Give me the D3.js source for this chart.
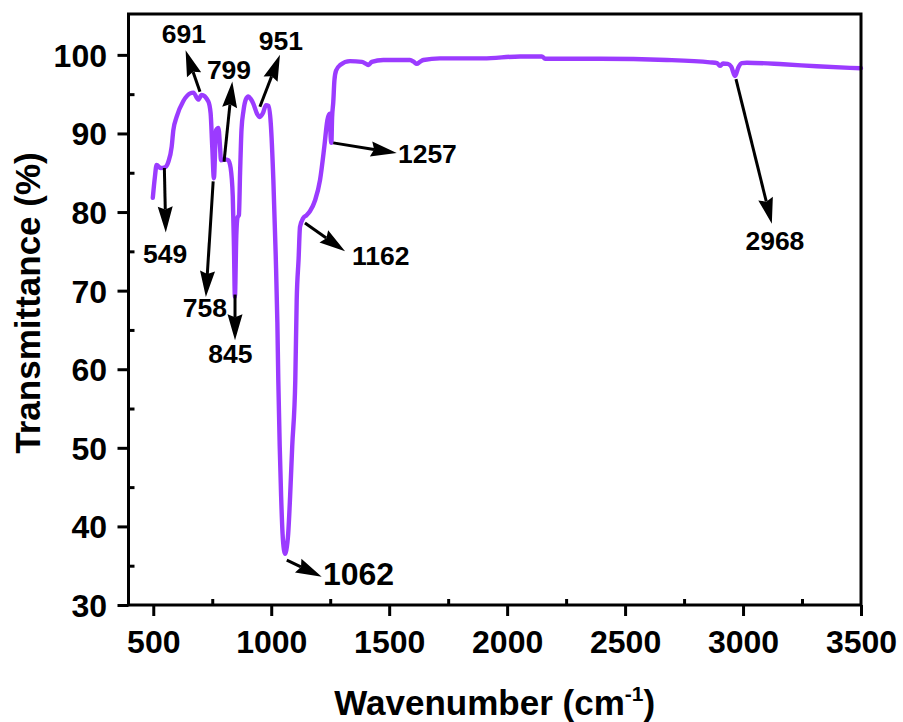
<!DOCTYPE html>
<html>
<head>
<meta charset="utf-8">
<script src="https://cdn.jsdelivr.net/npm/d3@7/dist/d3.min.js"></script>
<style>
  html, body { margin: 0; padding: 0; background: #fff; }
  svg { display: block; font-family: "Liberation Sans", Arial, sans-serif; }
</style>
</head>
<body>
<svg id="chart" width="903" height="722"></svg>
<script>
// ---- data ----
const wavenumber = [498, 507, 514, 531, 550, 564, 578, 585, 599, 627, 656, 670, 691, 705, 733, 743, 750, 757, 766, 776, 783, 787, 804, 818, 828, 837, 842, 846,
  852, 857, 863, 868, 874, 882, 892, 903, 913, 924, 940, 952, 965, 978, 988, 998, 1009, 1019, 1026, 1030, 1036, 1042, 1048, 1054, 1059, 1064, 1072, 1080, 1089,
  1102, 1108, 1116, 1122, 1135, 1150, 1164, 1186, 1207, 1225, 1238, 1248, 1252, 1255, 1258, 1263, 1268, 1275, 1292, 1334, 1384, 1405, 1412, 1426, 1475, 1588,
  1605, 1617, 1630, 1645, 1715, 1899, 2055, 2147, 2161, 2394, 2677, 2860, 2890, 2902, 2915, 2935, 2950, 2966, 2980, 2995, 3016, 3171, 3312, 3453, 3500];
const transmittance = [81.8, 84.5, 86.0, 85.6, 85.7, 86.4, 88.3, 90.4, 92.1, 94.1, 95.1, 95.2, 94.3, 94.9, 94.1, 92.6, 88.3, 84.3, 90.4, 90.7, 88.3, 86.6, 86.7, 86.6, 85.6, 82.0, 75.6, 69.2,
  77.0, 79.3, 79.6, 85.0, 90.5, 92.8, 94.3, 94.7, 94.4, 93.8, 92.5, 92.1, 92.6, 93.6, 93.5, 91.3, 84.1, 74.5, 66.0, 58.6, 50.2, 43.8, 39.1, 37.0, 36.5, 37.0, 39.1, 43.8, 50.2,
  58.6, 68.8, 74.0, 78.1, 79.2, 79.6, 80.1, 81.5, 84.1, 88.3, 91.7, 92.5, 89.5, 88.8, 92.0, 94.0, 96.8, 98.0, 98.7, 99.2, 99.1, 98.8, 98.7, 99.1, 99.35, 99.35,
  99.1, 98.85, 99.1, 99.35, 99.55, 99.55, 99.8, 99.8, 99.5, 99.5, 99.35, 99.05, 98.95, 98.6, 98.9, 98.85, 98.5, 97.3, 98.4, 98.95, 99.0, 98.8, 98.55, 98.35, 98.3];

const xTicks = [500, 1000, 1500, 2000, 2500, 3000, 3500];
const xMinorTicks = [750, 1250, 1750, 2250, 2750, 3250];
const yTicks = [30, 40, 50, 60, 70, 80, 90, 100];
const yMinorTicks = [35, 45, 55, 65, 75, 85, 95];

const peakLabels = ["549", "691", "799", "758", "845", "951", "1162", "1257", "1062", "2968"];
// arrow start / tip and label anchor, in data units (wavenumber, transmittance)
const arrowFrom = [[547, 85.6], [698, 95.3], [800, 86.4], [754, 83.9], [846.5, 69.5], [952, 93.4], [1143, 78.6], [1263, 88.8], [1066, 35.7], [2970, 96.9]];
const arrowTo   = [[553, 77.4], [637, 100.6], [835, 96.6], [723, 69.2], [846.5, 63.7], [1037, 100.0], [1313, 75.0], [1532, 87.5], [1214, 33.6], [3122, 78.5]];
const labelAt   = [[550, 73.5], [630, 101.5], [821, 96.9], [719, 66.7], [827, 60.8], [1041, 100.6], [1342, 73.3], [1537, 86.3], [1219, 32.6], [3135, 75.2]];
const labelAnchor = ["middle", "middle", "middle", "middle", "middle", "middle", "start", "start", "start", "middle"];
const labelBig = [false, false, false, false, false, false, false, false, true, false];

// ---- layout ----
const svg = d3.select("#chart");
const L = 128.5, R = 861, T = 14, B = 605;
const x = d3.scaleLinear().domain([395, 3500]).range([L, R]);
const y = d3.scaleLinear().domain([30, 105.2]).range([B, T]);

const font = '"Liberation Sans", Arial, sans-serif';

// spectrum
const pts = wavenumber.map((w, i) => [w, transmittance[i]]);
svg.append("path")
  .datum(pts)
  .attr("fill", "none")
  .attr("stroke", "#9B3BFF")
  .attr("stroke-width", 4.4)
  .attr("stroke-linejoin", "round")
  .attr("stroke-linecap", "round")
  .attr("d", d3.line().x(d => x(d[0])).y(d => y(d[1])).curve(d3.curveMonotoneX));

// axes
const gx = svg.append("g").attr("transform", `translate(0,${B})`)
  .call(d3.axisBottom(x).tickValues(xTicks).tickSizeInner(11).tickSizeOuter(0).tickPadding(0).tickFormat(d3.format("d")));
const gxm = svg.append("g").attr("transform", `translate(0,${B})`)
  .call(d3.axisBottom(x).tickValues(xMinorTicks).tickSizeInner(-6).tickSizeOuter(0).tickFormat(""));
const gy = svg.append("g").attr("transform", `translate(${L},0)`)
  .call(d3.axisLeft(y).tickValues(yTicks).tickSizeInner(11).tickSizeOuter(0).tickPadding(0).tickFormat(d3.format("d")));
const gym = svg.append("g").attr("transform", `translate(${L},0)`)
  .call(d3.axisLeft(y).tickValues(yMinorTicks).tickSizeInner(-6).tickSizeOuter(0).tickFormat(""));

[gx, gxm, gy, gym].forEach(g => {
  g.select(".domain").remove();
  g.selectAll(".tick line").attr("stroke", "#000").attr("stroke-width", 3);
});
gx.selectAll(".tick text")
  .attr("y", 48).attr("dy", 0)
  .attr("font-family", font).attr("font-size", 32).attr("font-weight", "bold").attr("fill", "#000");
gy.selectAll(".tick text")
  .attr("x", -21.5).attr("dy", "0.36em")
  .attr("font-family", font).attr("font-size", 32).attr("font-weight", "bold").attr("fill", "#000");

// frame
svg.append("rect")
  .attr("x", L).attr("y", T).attr("width", R - L).attr("height", B - T)
  .attr("fill", "none").attr("stroke", "#000").attr("stroke-width", 3);

// titles
const xt = svg.append("text")
  .attr("x", (L + R) / 2).attr("y", 715)
  .attr("text-anchor", "middle")
  .attr("font-family", font).attr("font-size", 35).attr("font-weight", "bold").attr("fill", "#000");
xt.append("tspan").text("Wavenumber (cm");
xt.append("tspan").text("-1").attr("font-size", 21).attr("dy", -14);
xt.append("tspan").text(")").attr("dy", 14);

svg.append("text")
  .attr("transform", "translate(40,303) rotate(-90)")
  .attr("text-anchor", "middle")
  .attr("font-family", font).attr("font-size", 35).attr("font-weight", "bold").attr("fill", "#000")
  .text("Transmittance (%)");

// annotations
const headLen = 26, headW = 15;
peakLabels.forEach((lab, i) => {
  const x0 = x(arrowFrom[i][0]), y0 = y(arrowFrom[i][1]);
  const x1 = x(arrowTo[i][0]), y1 = y(arrowTo[i][1]);
  const dx = x1 - x0, dy = y1 - y0, len = Math.hypot(dx, dy);
  const ux = dx / len, uy = dy / len;
  const hl = Math.min(headLen, len * 0.75);
  const bx = x1 - ux * hl, by = y1 - uy * hl;
  svg.append("line")
    .attr("x1", x0).attr("y1", y0).attr("x2", bx + ux * 3).attr("y2", by + uy * 3)
    .attr("stroke", "#000").attr("stroke-width", 3);
  svg.append("path")
    .attr("d", `M${x1},${y1}L${bx - uy * headW / 2},${by + ux * headW / 2}L${bx + ux * hl * 0.12},${by + uy * hl * 0.12}L${bx + uy * headW / 2},${by - ux * headW / 2}Z`)
    .attr("fill", "#000");
  svg.append("text")
    .attr("x", x(labelAt[i][0])).attr("y", y(labelAt[i][1]))
    .attr("text-anchor", labelAnchor[i])
    .attr("font-family", font).attr("font-size", labelBig[i] ? 32 : 26.5).attr("font-weight", "bold").attr("fill", "#000")
    .text(lab);
});
</script>
</body>
</html>
